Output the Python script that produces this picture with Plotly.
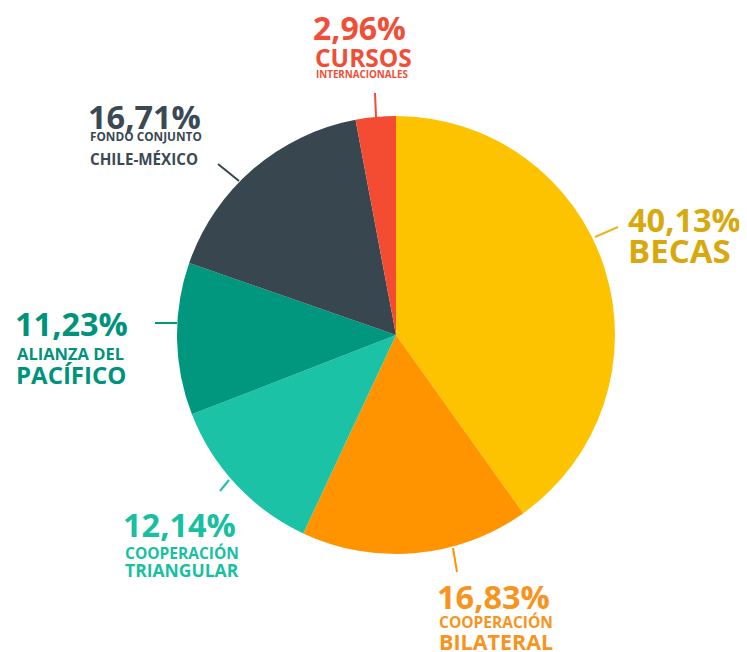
import plotly.graph_objects as go

PAGE_W, PAGE_H = 747, 652
OFF = 8  # default page body margin
W, H = PAGE_W - OFF, PAGE_H - OFF

categories = ["Becas", "Cooperación Bilateral", "Cooperación Triangular",
              "Alianza del Pacífico", "Fondo Conjunto Chile-México", "Cursos Internacionales"]
values = [40.13, 16.83, 12.14, 11.23, 16.71, 2.96]
pct_labels = ["40,13%", "16,83%", "12,14%", "11,23%", "16,71%", "2,96%"]
slice_colors = ["#FDC300", "#FF9300", "#1BC2A5", "#00977E", "#38474F", "#F44B33"]
text_colors = ["#D8A90E", "#F7941E", "#18BFA1", "#00937B", "#3A4953", "#F04E37"]

# centre and radius of the pie in page pixels
cx, cy, r = 396, 335, 219


def px(x):
    return (x - OFF) / W


def py(y):
    return 1 - (y - OFF) / H


fig = go.Figure(go.Pie(
    labels=categories, values=values, sort=False, direction="clockwise", rotation=0,
    marker=dict(colors=slice_colors, line=dict(width=0)),
    textinfo="none", hoverinfo="label+percent", showlegend=False,
    domain=dict(x=[px(cx - r), px(cx + r)], y=[py(cy + r), py(cy - r)]),
))

FONT = "Open Sans"

# (text, x_left_px, y_center_px, size, color_index)
label_lines = [
    (pct_labels[5], 311, 28, 32, 5),
    ("CURSOS", 313, 57, 24.5, 5),
    ("INTERNACIONALES", 314, 74, 9.8, 5),
    (pct_labels[4], 86, 117, 32.5, 4),
    ("FONDO CONJUNTO", 88, 136, 11.8, 4),
    ("CHILE-MÉXICO", 88, 159, 15.2, 4),
    (pct_labels[3], 13, 324, 32.5, 3),
    ("ALIANZA DEL", 15, 353, 16.5, 3),
    ("PACÍFICO", 14, 374, 24, 3),
    (pct_labels[2], 121, 524, 32.5, 2),
    ("COOPERACIÓN", 123, 553, 15.5, 2),
    ("TRIANGULAR", 123, 570, 17.5, 2),
    (pct_labels[1], 435, 596, 32.5, 1),
    ("COOPERACIÓN", 437, 622, 15.5, 1),
    ("BILATERAL", 437, 641, 21.5, 1),
    (pct_labels[0], 626, 219, 32.5, 0),
    ("BECAS", 626, 251, 33, 0),
]

for text, x, y, size, ci in label_lines:
    fig.add_annotation(
        x=px(x), y=py(y), xref="paper", yref="paper", xanchor="left", yanchor="middle",
        text=text, showarrow=False,
        font=dict(family=FONT, size=size, color=text_colors[ci], weight="bold"),
    )

# leader lines (x0, y0, x1, y1 in page px, color index)
leaders = [
    (375, 93, 376, 117, 5),
    (218, 164, 239, 181, 4),
    (155, 323, 177, 323, 3),
    (220, 491, 229, 480, 2),
    (453, 548, 457, 572, 1),
    (595, 237, 618, 227, 0),
]
for x0, y0, x1, y1, ci in leaders:
    fig.add_shape(type="line", xref="paper", yref="paper",
                  x0=px(x0), y0=py(y0), x1=px(x1), y1=py(y1),
                  line=dict(color=slice_colors[ci] if ci != 0 else "#E5B820", width=2))

fig.update_layout(
    width=W, height=H, margin=dict(l=0, r=0, t=0, b=0),
    paper_bgcolor="white", plot_bgcolor="white",
)

fig.write_html("out.html")
